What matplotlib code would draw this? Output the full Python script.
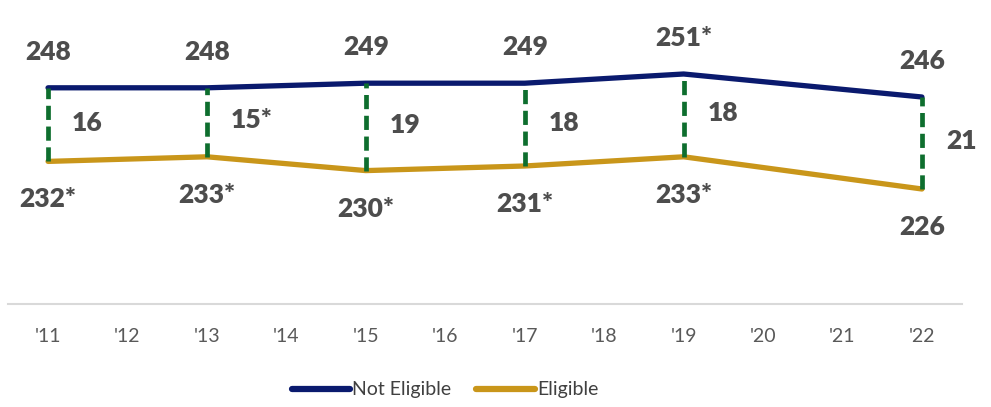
import matplotlib
matplotlib.use("Agg")
import matplotlib.pyplot as plt

# data
years = ["'11", "'12", "'13", "'14", "'15", "'16", "'17", "'18", "'19", "'20", "'21", "'22"]
data_idx = [0, 2, 4, 6, 8, 11]
not_eligible = [248, 248, 249, 249, 251, 246]
eligible = [232, 233, 230, 231, 233, 226]
ne_labels = ["248", "248", "249", "249", "251*", "246"]
el_labels = ["232*", "233*", "230*", "231*", "233*", "226"]
gap_labels = ["16", "15*", "19", "18", "18", "21"]

blue = "#0A1A6E"
gold = "#C9961A"
green = "#0E6E2E"
txt = "#4D4D4D"

plt.rcParams["font.family"] = ["Lato", "DejaVu Sans"]

fig = plt.figure(figsize=(9.91, 4.07), dpi=100)
ax = fig.add_axes([0.0084, 0.2531, 0.962, 0.7233])

ax.plot(data_idx, not_eligible, color=blue, lw=3.8, solid_capstyle="round", label="Not Eligible", zorder=3)
ax.plot(data_idx, eligible, color=gold, lw=3.8, solid_capstyle="round", label="Eligible", zorder=3)

# dashed gap lines
for x, a, b in zip(data_idx, not_eligible, eligible):
    ax.plot([x, x], [b, a], color=green, lw=3.4, dashes=(3, 1.4), zorder=4)

for x, a, b, la, lb, lg in zip(data_idx, not_eligible, eligible, ne_labels, el_labels, gap_labels):
    ax.annotate(la, (x, a), xytext=(0, 36), textcoords="offset pixels",
                ha="center", va="center", fontsize=19, fontweight="heavy", color=txt)
    ax.annotate(lb, (x, b), xytext=(0, -38), textcoords="offset pixels",
                ha="center", va="center", fontsize=19, fontweight="heavy", color=txt)
    ax.annotate(lg, (x, (a + b) / 2), xytext=(24, 2), textcoords="offset pixels",
                ha="left", va="center", fontsize=19, fontweight="heavy", color=txt)

ax.set_xlim(-0.5, 11.5)
ax.set_ylim(201, 265)
ax.set_xticks(range(len(years)))
ax.set_xticklabels(years, fontsize=14, color="#595959")
ax.tick_params(axis="x", length=0, pad=17)
ax.set_yticks([])
for s in ["top", "left", "right"]:
    ax.spines[s].set_visible(False)
ax.spines["bottom"].set_color("#D9D9D9")
ax.spines["bottom"].set_linewidth(1.5)

leg = fig.legend(loc="center", bbox_to_anchor=(0.449, 0.042), ncol=2, frameon=False,
                 fontsize=14, handlelength=3.0, handletextpad=0.1, columnspacing=1.3,
                 labelcolor="#404040")
for h in leg.get_lines():
    h.set_linewidth(4.5)

fig.savefig("out.png", dpi=100)
